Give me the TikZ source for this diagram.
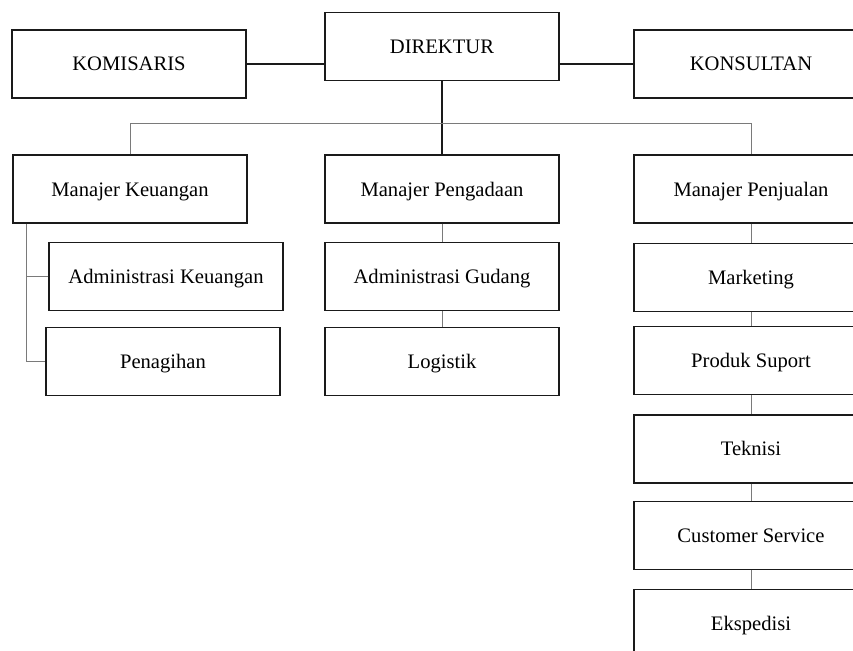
\documentclass[tikz,border=0pt]{standalone}
\usepackage{fontspec}
\setmainfont{Liberation Serif}
\usepackage{xcolor}
\usepackage{tikz}
\usetikzlibrary{positioning,calc}
\definecolor{ink}{HTML}{1A1A1A}
\definecolor{wire}{HTML}{7A7A7A}

\begin{document}
\begin{tikzpicture}[x=1pt,y=1pt,
  unit/.style={draw=ink,line width=1.3pt,fill=white,minimum width=234pt,minimum height=68pt,
    inner sep=2pt,text height=14pt,text depth=0pt,align=center,font=\fontsize{20.6}{24}\selectfont},
  main/.style={draw=ink,line width=1.3pt},
  sub/.style={draw=wire,line width=0.9pt},
  node distance=18pt]
  \path[use as bounding box,clip] (0,0) rectangle (853,-650);

  % top row
  \node[unit] (dir) at (442,-46.5) {DIREKTUR};
  \node[unit] (kom) at (129,-64) {KOMISARIS};
  \node[unit] (kon) at (751,-64) {KONSULTAN};

  % managers
  \node[unit] (mk) at (130,-189) {Manajer Keuangan};
  \node[unit] (mpeng) at (442,-189) {Manajer Pengadaan};
  \node[unit] (mpenj) at (751,-189) {Manajer Penjualan};

  % keuangan
  \node[unit,below=of mk,xshift=36pt] (admk) {Administrasi Keuangan};
  \node[unit,below=16pt of admk,xshift=-3pt] (pen) {Penagihan};

  % pengadaan
  \node[unit,below=of mpeng] (admg) {Administrasi Gudang};
  \node[unit,below=16pt of admg] (log) {Logistik};

  % penjualan
  \node[unit,below=19pt of mpenj] (mkt) {Marketing};
  \node[unit,below=14pt of mkt] (ps) {Produk Suport};
  \node[unit,below=19pt of ps] (tek) {Teknisi};
  \node[unit,below=17pt of tek] (cs) {Customer Service};
  \node[unit,below=19pt of cs] (eks) {Ekspedisi};

  \coordinate (bus) at ($(dir.south)+(0,-42)$);
  \coordinate (mkfoot) at ([xshift=14pt]mk.south west);

  \draw[main] (kom)--(kom-|dir.west);
  \draw[main] (kon)--(kon-|dir.east);
  \draw[main] (dir)--(mpeng);
  \draw[sub] (mk.north) |- (bus) -| (mpenj.north);
  \draw[sub] (mkfoot) |- (pen.west);
  \draw[sub] (admk.west) -- (admk.west-|mkfoot);
  \draw[sub] (mpeng)--(admg);
  \draw[sub] (admg)--(log);
  \draw[sub] (mpenj)--(mkt);
  \draw[sub] (mkt)--(ps);
  \draw[sub] (ps)--(tek);
  \draw[sub] (tek)--(cs);
  \draw[sub] (cs)--(eks);
\end{tikzpicture}
\end{document}
